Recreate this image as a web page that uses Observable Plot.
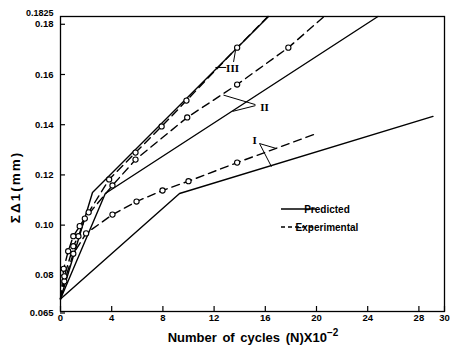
<!DOCTYPE html>
<html><head><meta charset="utf-8">
<script src="https://cdn.jsdelivr.net/npm/d3@7"></script>
<script src="https://cdn.jsdelivr.net/npm/@observablehq/plot@0.6"></script>
<style>body{margin:0;background:#fff} svg{display:block}</style>
</head><body><div id="chart"></div>
<script>
// ---- tick values / labels ----
const xTicks = [0, 4, 8, 12, 16, 20, 24, 28, 30];
const yTicks = [0.065, 0.08, 0.10, 0.12, 0.14, 0.16, 0.18];
const yTickLabels = ["0.065", "0.08", "0.10", "0.12", "0.14", "0.16", "0.18"];
const yTopTick = [0.1825];
const yTopLabel = "0.1825";

// ---- predicted (solid) ----
const predI_N   = [0, 9.3, 29.1];
const predI_D   = [0.070, 0.1120, 0.1427];
const predII_N  = [0, 3.5, 24.8];
const predII_D  = [0.070, 0.1120, 0.1825];
const predIII_N = [0, 2.5, 16.25];
const predIII_D = [0.070, 0.1124, 0.1825];

// ---- experimental (dashed, circles) ----
const expI_N   = [0, 0.3, 1.0, 2.0, 4.06, 5.94, 7.97, 10.0, 13.8, 19.8];
const expI_D   = [0.070, 0.077, 0.088, 0.0961, 0.1036, 0.1088, 0.1132, 0.1169, 0.1243, 0.1355];
const expII_N  = [0, 0.3, 1.0, 1.4, 1.9, 4.06, 5.86, 9.9, 13.8, 17.8, 20.6];
const expII_D  = [0.070, 0.079, 0.091, 0.095, 0.1020, 0.1152, 0.1255, 0.1423, 0.1554, 0.1701, 0.1825];
const expIII_N = [0, 0.25, 0.6, 1.0, 1.5, 2.2, 3.8, 5.86, 7.9, 9.84, 13.8, 16.2];
const expIII_D = [0.070, 0.082, 0.089, 0.095, 0.099, 0.1045, 0.1176, 0.1283, 0.1387, 0.1490, 0.1701, 0.1825];

const rows = (name, N, D) => N.map((n, i) => ({series: name, n, d: D[i]}));
const pred = [...rows("I", predI_N, predI_D), ...rows("II", predII_N, predII_D), ...rows("III", predIII_N, predIII_D)];
const exp  = [...rows("I", expI_N, expI_D), ...rows("II", expII_N, expII_D), ...rows("III", expIII_N, expIII_D)];
// circles: interior measured points (not the origin or the line ends)
const expDots = exp.filter(r => r.n > 0 && !(r.series === "I" && r.n === 19.8) && r.d < 0.1825);

// ---- annotations (data units) ----
const annLabels = [
  {t: "I",   n: 15.16, d: 0.1331},
  {t: "II",  n: 15.94, d: 0.1462},
  {t: "III", n: 13.44, d: 0.1618}
];
const annLeaders = [
  {n1: 15.55, d1: 0.1319, n2: 16.88, d2: 0.1299},
  {n1: 15.55, d1: 0.1319, n2: 16.48, d2: 0.1227},
  {n1: 15.23, d1: 0.1474, n2: 12.73, d2: 0.1512},
  {n1: 15.23, d1: 0.1470, n2: 13.44, d2: 0.1447},
  {n1: 12.10, d1: 0.1622, n2: 12.95, d2: 0.1622},
  {n1: 13.67, d1: 0.1689, n2: 13.52, d2: 0.1644}
];

const font = "'Liberation Sans', Arial, sans-serif";
const plot = Plot.plot({
  width: 452, height: 351,
  marginLeft: 60, marginRight: 8, marginTop: 16, marginBottom: 40,
  x: {domain: [0, 30]},
  y: {domain: [0.065, 0.1825]},
  style: {fontFamily: font, fontSize: "9.5px", fontWeight: "bold", color: "black", background: "white"},
  marks: [
    Plot.frame({stroke: "black", strokeWidth: 1.3}),
    Plot.axisX({ticks: xTicks, tickSize: -5, tickPadding: 8, tickFormat: d => String(d), label: null, strokeWidth: 1.2}),
    Plot.axisY({ticks: yTicks, tickSize: -5, tickPadding: 12, tickFormat: d => yTickLabels[yTicks.indexOf(d)], label: null, strokeWidth: 1.2, dy: 1.5}),
    Plot.axisY({ticks: yTopTick, tickSize: 0, tickPadding: 7, tickFormat: () => yTopLabel, label: null, dy: -3.5, fontSize: 9}),
    Plot.line(pred, {x: "n", y: "d", z: "series", stroke: "black", strokeWidth: 1.4}),
    Plot.line(exp, {x: "n", y: "d", z: "series", stroke: "black", strokeWidth: 1.4, strokeDasharray: "8,5"}),
    Plot.dot(expDots, {x: "n", y: "d", r: 2.6, stroke: "black", fill: "white", strokeWidth: 1.1}),
    Plot.link(annLeaders, {x1: "n1", y1: "d1", x2: "n2", y2: "d2", stroke: "black", strokeWidth: 1}),
    Plot.text(annLabels, {x: "n", y: "d", text: "t", fontFamily: "'Liberation Serif', serif", fontSize: 11, fontWeight: "bold"})
  ]
});

const svg = d3.select(plot);
// legend
const lg = svg.append("g").attr("font-family", font).attr("font-weight", "bold").attr("font-size", 10);
lg.append("line").attr("x1", 281).attr("x2", 316).attr("y1", 209).attr("y2", 209).attr("stroke", "black").attr("stroke-width", 1.4);
lg.append("line").attr("x1", 281).attr("x2", 316).attr("y1", 227).attr("y2", 227).attr("stroke", "black").attr("stroke-width", 1.4).attr("stroke-dasharray", "4,3");
lg.append("text").attr("x", 327).attr("y", 213).text("Predicted");
lg.append("text").attr("x", 327).attr("y", 231).text("Experimental");

// axis titles
const xt = svg.append("text").attr("x", 253).attr("y", 342).attr("text-anchor", "middle")
  .attr("font-family", font).attr("font-weight", "bold").attr("font-size", 13).attr("word-spacing", 2);
xt.append("tspan").text("Number of cycles (N)X10");
xt.append("tspan").attr("dy", -6).attr("font-size", 10).text("−2");

svg.append("text").attr("transform", "translate(20,187) rotate(-90)").attr("text-anchor", "middle")
  .attr("font-family", font).attr("font-weight", "bold").attr("font-size", 13.5).attr("letter-spacing", 2).text("ΣΔ1(mm)");

document.getElementById("chart").appendChild(plot);
</script>
</body></html>
